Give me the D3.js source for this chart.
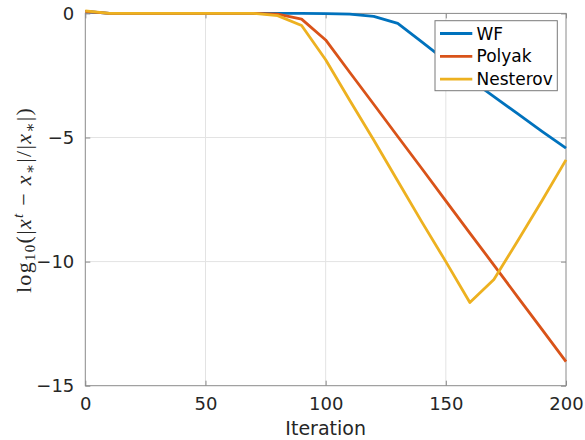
<!DOCTYPE html>
<html><head><meta charset="utf-8">
<script src="https://cdn.jsdelivr.net/npm/d3@7"></script>
<style>body{margin:0;background:#fff}svg{display:block}</style>
</head><body>
<svg id="c" width="585" height="440"></svg>
<script>
const iterations = [0,10,20,30,40,50,60,70,80,90,100,110,120,130,140,150,160,170,180,190,200];
const wf       = [0.08,0,0,0,0,0,0,0,0,0,-0.01,-0.03,-0.12,-0.4,-1.15,-1.9,-2.65,-3.35,-4.05,-4.75,-5.43];
const polyak   = [0.08,0,0,0,0,0,0,0,-0.03,-0.23,-1.07,-2.37,-3.66,-4.96,-6.25,-7.55,-8.85,-10.14,-11.44,-12.73,-14.03];
const nesterov = [0.1,0,0,0,0,0,0,0,-0.09,-0.49,-1.87,-3.5,-5.1,-6.75,-8.4,-10.0,-11.65,-10.72,-9.15,-7.55,-5.9];
const seriesNames = ["WF","Polyak","Nesterov"];
const xTicks = [0,50,100,150,200];
const yTicks = [0,-5,-10,-15];

const colors = ["#0072BD","#D95319","#EDB120"];
const svg = d3.select("#c");
const L=85.3, R=566, T=13.4, B=385.7;
const x = d3.scaleLinear().domain([0,200]).range([L,R]);
const y = d3.scaleLinear().domain([-15,0]).range([B,T]);
const fmt = v => (v<0 ? "\u2212"+Math.abs(v) : ""+v);
const font = "'DejaVu Sans', sans-serif";

// grid
const g = svg.append("g");
g.selectAll(".gx").data(xTicks.slice(1,-1)).enter().append("line")
 .attr("x1",d=>x(d)).attr("x2",d=>x(d)).attr("y1",T).attr("y2",B)
 .attr("stroke","#e3e3e3").attr("stroke-width",1);
g.selectAll(".gy").data(yTicks.slice(1,-1)).enter().append("line")
 .attr("y1",d=>y(d)).attr("y2",d=>y(d)).attr("x1",L).attr("x2",R)
 .attr("stroke","#e3e3e3").attr("stroke-width",1);

// axes via d3 axis
const axCol = "#8a8a8a";
function styleAxis(sel){
  sel.select(".domain").remove();
  sel.selectAll(".tick line").attr("stroke",axCol);
  sel.selectAll(".tick text").attr("fill","#262626").style("font-family",font).style("font-size","18px");
}
svg.append("g").attr("transform",`translate(0,${B})`)
 .call(d3.axisBottom(x).tickValues(xTicks).tickFormat(fmt).tickSizeInner(-5).tickSizeOuter(0).tickPadding(12))
 .call(styleAxis);
svg.append("g").attr("transform",`translate(0,${T})`)
 .call(d3.axisTop(x).tickValues(xTicks).tickFormat("").tickSizeInner(-5).tickSizeOuter(0))
 .call(styleAxis);
svg.append("g").attr("transform",`translate(${L},0)`)
 .call(d3.axisLeft(y).tickValues(yTicks).tickFormat(fmt).tickSizeInner(-5).tickSizeOuter(0).tickPadding(11))
 .call(styleAxis);
svg.append("g").attr("transform",`translate(${R},0)`)
 .call(d3.axisRight(y).tickValues(yTicks).tickFormat("").tickSizeInner(-5).tickSizeOuter(0))
 .call(styleAxis);
svg.append("rect").attr("x",L).attr("y",T).attr("width",R-L).attr("height",B-T)
 .attr("fill","none").attr("stroke",axCol).attr("stroke-width",1);

// lines
const data = [wf,polyak,nesterov];
const line = d3.line().x((d,i)=>x(iterations[i])).y(d=>y(d));
data.forEach((s,k)=>{
  svg.append("path").datum(s).attr("d",line).attr("fill","none")
   .attr("stroke",colors[k]).attr("stroke-width",2.8).attr("stroke-linejoin","round");
});

// labels
svg.append("text").attr("x",(L+R)/2).attr("y",435).attr("text-anchor","middle")
 .style("font-family",font).style("font-size","19px").attr("fill","#262626").text("Iteration");

const yl = svg.append("text").attr("transform",`translate(31,200) rotate(-90)`)
 .attr("text-anchor","middle").style("font-family","'Liberation Serif','DejaVu Serif',serif")
 .style("font-size","22px").style("letter-spacing","1.3px").attr("fill","#262626");
yl.append("tspan").text("log");
yl.append("tspan").attr("dy",4).style("font-size","15px").text("10");
yl.append("tspan").attr("dy",-4).text("(|");
yl.append("tspan").style("font-style","italic").text("x");
yl.append("tspan").attr("dy",-8).style("font-size","15px").style("font-style","italic").text("t");
yl.append("tspan").attr("dy",8).text(" \u2212 ");
yl.append("tspan").style("font-style","italic").text("x");
yl.append("tspan").attr("dy",4).style("font-size","15px").text("\u2217");
yl.append("tspan").attr("dy",-4).text("|/|");
yl.append("tspan").style("font-style","italic").text("x");
yl.append("tspan").attr("dy",4).style("font-size","15px").text("\u2217");
yl.append("tspan").attr("dy",-4).text("|)");

// legend
const lg = svg.append("g");
lg.append("rect").attr("x",435).attr("y",20.7).attr("width",122.3).attr("height",70)
 .attr("fill","#fff").attr("stroke","#7a7a7a").attr("stroke-width",1);
seriesNames.forEach((n,k)=>{
  const yy = 33.5 + k*22.8;
  lg.append("line").attr("x1",440).attr("x2",472.3).attr("y1",yy).attr("y2",yy)
   .attr("stroke",colors[k]).attr("stroke-width",2.8);
  lg.append("text").attr("x",476.5).attr("y",yy+6).style("font-family",font)
   .style("font-size","17px").attr("fill","#000").text(n);
});
</script>
</body></html>
